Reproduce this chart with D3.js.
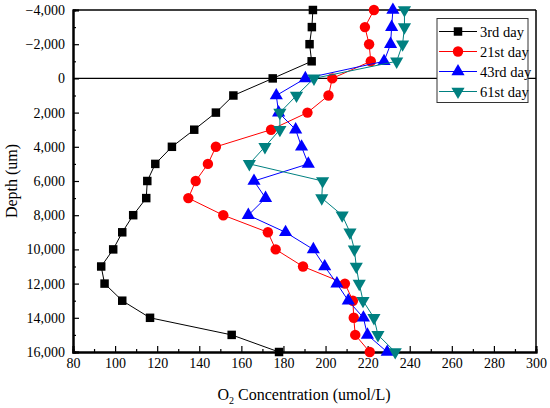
<!DOCTYPE html>
<html><head><meta charset="utf-8">
<script src="https://cdn.jsdelivr.net/npm/d3@7"></script>
<style>body{margin:0;background:#fff}svg{display:block}svg text{font-family:"Times New Roman","Liberation Serif","DejaVu Serif",serif !important}</style>
</head><body>
<script>
const depths = [-4000,-3000,-2000,-1000,0,1000,2000,3000,4000,5000,6000,7000,8000,9000,10000,11000,12000,13000,14000,15000,16000];
const day3  = [194,193.5,192.4,193.4,174.9,156.2,147.9,137.6,127.0,119.1,115.3,114.8,108.6,103.4,99.1,93.4,95.0,103.4,116.6,155.4,177.9];
const day21 = [223,218.7,220.7,221.5,203.2,201.4,191.4,174.1,147.9,144.1,138.3,134.8,151.4,172.6,176.3,189.3,209.2,213,213.4,214.1,221];
const day43 = [232,231.4,230.9,227.8,190.4,176.6,177.7,185.8,188.6,191.8,166,171.5,163.3,181,194.2,199.6,205.4,210.8,218,219.9,229.3];
const day61 = [237.5,237.5,236.6,233.8,194.5,186.2,178.3,178.3,171.2,163.8,198.6,198.2,207.9,211.6,213.7,214.6,216,217.8,223,224.9,233.1];
const seriesNames = ["3rd day","21st day","43rd day","61st day"];
const xTicks = [80,100,120,140,160,180,200,220,240,260,280,300];
const yTicks = [-4000,-2000,0,2000,4000,6000,8000,10000,12000,14000,16000];

const W=550,H=408, L=73, R=536, T=10, B=352;
const FF='"Times New Roman","Liberation Serif","DejaVu Serif",serif';
const svg=d3.select("body").append("svg").attr("width",W).attr("height",H).attr("font-family",FF);
const x=d3.scaleLinear().domain([80,300]).range([L,R]);
const y=d3.scaleLinear().domain([-4000,16000]).range([T,B]);

const series=[
 {name:seriesNames[0],vals:day3,color:"#000000",sym:d3.symbolSquare,size:72,rot:0},
 {name:seriesNames[1],vals:day21,color:"#ff0000",sym:d3.symbolCircle,size:85,rot:0},
 {name:seriesNames[2],vals:day43,color:"#0000ff",sym:d3.symbolTriangle,size:75,rot:0},
 {name:seriesNames[3],vals:day61,color:"#008080",sym:d3.symbolTriangle,size:75,rot:180}
];

svg.append("line").attr("x1",L).attr("x2",R).attr("y1",T).attr("y2",T).attr("stroke","#000").attr("stroke-width",1.5);
svg.append("line").attr("x1",R).attr("x2",R).attr("y1",T).attr("y2",B).attr("stroke","#000").attr("stroke-width",1.5);
svg.append("line").attr("x1",L).attr("x2",R).attr("y1",y(0)).attr("y2",y(0)).attr("stroke","#000").attr("stroke-width",1.3);

const xAxis=d3.axisBottom(x).tickValues(xTicks).tickSize(-6).tickPadding(10).tickFormat(d3.format("d"));
const gx=svg.append("g").attr("transform",`translate(0,${B})`).call(xAxis);
const xMinor=d3.axisBottom(x).tickValues(d3.range(90,300,20)).tickSize(-3).tickFormat("");
const gxm=svg.append("g").attr("transform",`translate(0,${B})`).call(xMinor);
const yAxis=d3.axisLeft(y).tickValues(yTicks).tickSize(-6).tickPadding(8).tickFormat(d3.format(","));
const gy=svg.append("g").attr("transform",`translate(${L},0)`).call(yAxis);
const yMinor=d3.axisLeft(y).tickValues(d3.range(-3000,16000,2000)).tickSize(-3).tickFormat("");
const gym=svg.append("g").attr("transform",`translate(${L},0)`).call(yMinor);
[gx,gxm,gy,gym].forEach(g=>{
  g.attr("font-family",FF);
  g.selectAll(".domain").attr("stroke","#000").attr("stroke-width",2);
  g.selectAll(".tick line").attr("stroke","#000").attr("stroke-width",1.2);
  g.selectAll("text").attr("font-size",14).attr("fill","#000").attr("font-family",FF);
});
gx.selectAll("text").attr("dy","0.45em");

series.forEach(s=>{
  const pts=s.vals.map((v,i)=>[v,depths[i]]);
  svg.append("path").datum(pts).attr("fill","none").attr("stroke",s.color).attr("stroke-width",1)
    .attr("d",d3.line().x(d=>x(d[0])).y(d=>y(d[1])));
  svg.append("g").selectAll("path").data(pts).join("path")
    .attr("d",d3.symbol().type(s.sym).size(s.size))
    .attr("fill",s.color)
    .attr("transform",d=>`translate(${x(d[0])},${y(d[1])}) rotate(${s.rot})`);
});

const lg=svg.append("g");
lg.append("rect").attr("x",437).attr("y",18.5).attr("width",91).attr("height",84).attr("fill","#fff").attr("stroke","#333").attr("stroke-width",1);
series.forEach((s,i)=>{
  const yy=31.5+i*20;
  lg.append("line").attr("x1",439).attr("x2",477).attr("y1",yy).attr("y2",yy).attr("stroke",s.color).attr("stroke-width",1);
  lg.append("path").attr("d",d3.symbol().type(s.sym).size(s.size)()).attr("fill",s.color)
    .attr("transform",`translate(458,${yy}) rotate(${s.rot})`);
  lg.append("text").attr("x",480).attr("y",yy).attr("dy","0.35em").attr("font-size",14.5).attr("fill","#000").text(s.name);
});

const xt=svg.append("text").attr("x",304).attr("y",400).attr("text-anchor","middle").attr("font-size",16).attr("fill","#000");
xt.append("tspan").text("O");
xt.append("tspan").attr("font-size",10).attr("dy",4).text("2");
xt.append("tspan").attr("dy",-4).text(" Concentration (umol/L)");
svg.append("text").attr("transform",`translate(17,${(T+B)/2}) rotate(-90)`).attr("text-anchor","middle")
  .attr("font-size",16).attr("fill","#000").text("Depth (um)");
</script>
</body></html>
